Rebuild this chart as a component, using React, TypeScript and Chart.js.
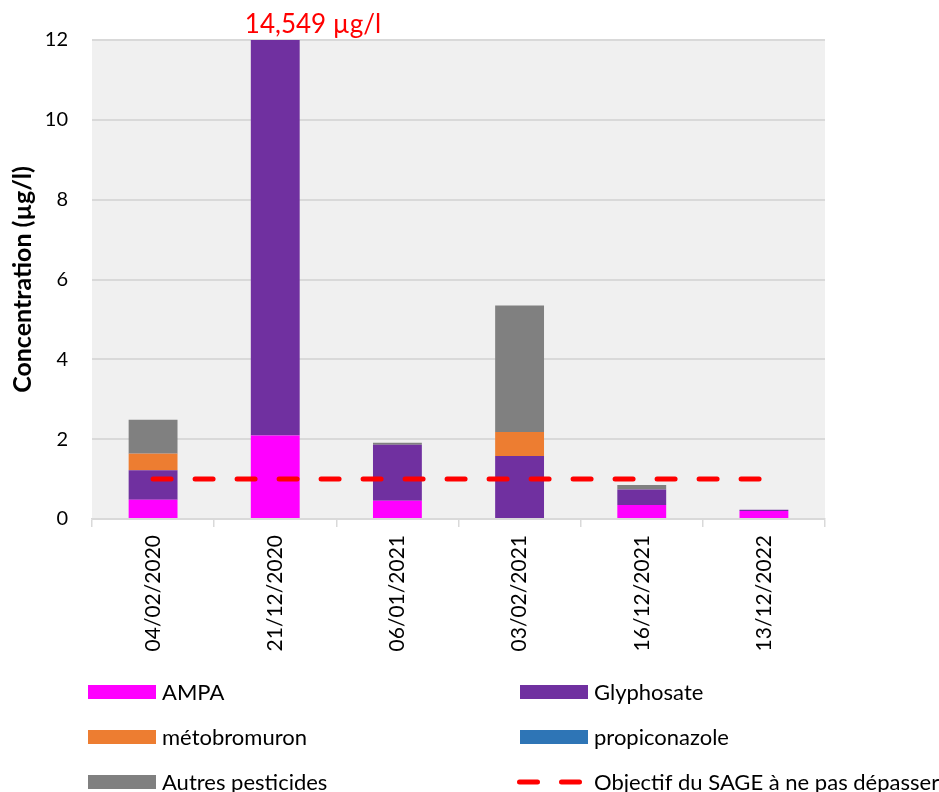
import { Chart, registerables } from "chart.js";
import { useEffect, useRef } from "react";

Chart.register(...registerables);

// dates des prélèvements
const dates = ["04/02/2020", "21/12/2020", "06/01/2021", "03/02/2021", "16/12/2021", "13/12/2022"];

// concentrations en µg/l
const ampa = [0.48, 2.09, 0.46, 0, 0.35, 0.2];
const glyphosate = [0.74, 12.459, 1.4, 1.58, 0.39, 0.03];
const metobromuron = [0.42, 0, 0, 0.6, 0, 0];
const propiconazole = [0.015, 0, 0, 0, 0, 0];
const autres = [0.83, 0, 0.05, 3.17, 0.11, 0];
const objectifSage = [1, 1, 1, 1, 1, 1];

const yTicks = [0, 2, 4, 6, 8, 10, 12];

const FONT = "Lato, 'Open Sans', sans-serif";

// fond gris de la zone de tracé
const plotBg = {
  id: "plotBg",
  beforeDraw(chart: Chart) {
    const { ctx, chartArea } = chart;
    ctx.save();
    ctx.fillStyle = "#F0F0F0";
    ctx.fillRect(chartArea.left, chartArea.top, chartArea.right - chartArea.left, chartArea.bottom - chartArea.top);
    ctx.restore();
  },
};

// valeur totale de la barre tronquée
const overflowLabel = {
  id: "overflowLabel",
  afterDatasetsDraw(chart: Chart) {
    const { ctx, chartArea } = chart;
    const yMax = chart.scales.y.max;
    const barSets = chart.data.datasets.filter((d: any) => d.type !== "line");
    dates.forEach((_, i) => {
      const total = barSets.reduce((s: number, d: any) => s + (d.data[i] || 0), 0);
      if (total <= yMax) return;
      const el: any = chart.getDatasetMeta(0).data[i];
      ctx.save();
      ctx.font = `26px ${FONT}`;
      ctx.fillStyle = "#FF0000";
      ctx.textAlign = "left";
      ctx.textBaseline = "alphabetic";
      const txt = total.toLocaleString("fr-FR", { minimumFractionDigits: 3, maximumFractionDigits: 3 }) + " µg/l";
      ctx.fillText(txt, el.x - el.width / 2 - 6, chartArea.top - 7);
      ctx.restore();
    });
  },
};

// légende sur deux colonnes
const twoColLegend = {
  id: "twoColLegend",
  afterDraw(chart: Chart) {
    const { ctx } = chart;
    const cols = [88, 520];
    const rows = [692, 737, 782];
    ctx.save();
    chart.data.datasets.forEach((d: any, i: number) => {
      const x = cols[i % 2];
      const y = rows[Math.floor(i / 2)];
      if (d.type === "line") {
        ctx.strokeStyle = d.borderColor;
        ctx.lineWidth = 5;
        ctx.lineCap = "round";
        ctx.setLineDash([18, 24]);
        ctx.beginPath();
        ctx.moveTo(x - 0.5, y);
        ctx.lineTo(x + 64, y);
        ctx.stroke();
        ctx.setLineDash([]);
      } else {
        ctx.fillStyle = d.backgroundColor;
        ctx.fillRect(x, y - 7, 68, 14);
      }
      ctx.fillStyle = "#000";
      ctx.font = `22px ${FONT}`;
      ctx.textAlign = "left";
      ctx.textBaseline = "middle";
      ctx.fillText(d.label, x + 74, y + 1);
    });
    ctx.restore();
  },
};

const App = () => {
  const canvasRef = useRef<HTMLCanvasElement>(null);
  const chartRef = useRef<Chart | null>(null);

  useEffect(() => {
    if (!canvasRef.current) return;
    if (chartRef.current) chartRef.current.destroy();

    const bar = (label: string, data: number[], color: string) => ({
      type: "bar" as const,
      label,
      data,
      backgroundColor: color,
      stack: "pesticides",
      order: 1,
      barPercentage: 0.4,
      categoryPercentage: 1,
    });

    chartRef.current = new Chart(canvasRef.current, {
      type: "bar",
      data: {
        labels: dates,
        datasets: [
          bar("AMPA", ampa, "#FF00FF"),
          bar("Glyphosate", glyphosate, "#7030A0"),
          bar("métobromuron", metobromuron, "#ED7D31"),
          bar("propiconazole", propiconazole, "#2E75B6"),
          bar("Autres pesticides", autres, "#808080"),
          {
            type: "line" as const,
            label: "Objectif du SAGE à ne pas dépasser",
            data: objectifSage,
            borderColor: "#FF0000",
            borderWidth: 5,
            borderDash: [18, 24],
            borderCapStyle: "round",
            pointRadius: 0,
            stack: "objectif",
            order: 0,
          } as any,
        ],
      },
      options: {
        animation: false,
        responsive: false,
        layout: { padding: { top: 40, right: 114, left: 0, bottom: 0 } },
        plugins: {
          legend: { display: false },
          tooltip: { enabled: false },
        },
        scales: {
          x: {
            stacked: true,
            afterFit: (scale: any) => {
              scale.height = 792 - 519;
            },
            grid: {
              drawOnChartArea: false,
              drawTicks: true,
              tickLength: 8,
              color: "#D9D9D9",
              lineWidth: 1.5,
            },
            border: { display: true, color: "#D9D9D9", width: 1.5 },
            ticks: {
              minRotation: 90,
              maxRotation: 90,
              padding: 8,
              color: "#000",
              font: { family: FONT, size: 21 },
            },
          },
          y: {
            stacked: true,
            min: 0,
            max: 12,
            afterFit: (scale: any) => {
              scale.width = 92;
            },
            afterBuildTicks: (scale: any) => {
              scale.ticks = yTicks.map((v) => ({ value: v }));
            },
            grid: { color: "#D9D9D9", lineWidth: 2, drawTicks: false },
            border: { display: false },
            ticks: {
              padding: 24,
              color: "#000",
              font: { family: FONT, size: 20 },
            },
            title: {
              display: true,
              text: "Concentration (µg/l)",
              color: "#000",
              padding: { top: 8, bottom: 0 },
              font: { family: FONT, size: 25, weight: "bold" },
            },
          },
        },
      },
      plugins: [plotBg, overflowLabel, twoColLegend],
    });

    return () => {
      chartRef.current?.destroy();
      chartRef.current = null;
    };
  }, []);

  return (
    <div style={{ position: "fixed", left: 0, top: 0, width: 939, height: 792, background: "#fff" }}>
      <canvas ref={canvasRef} width={939} height={792} style={{ display: "block" }} />
    </div>
  );
};

export default App;
